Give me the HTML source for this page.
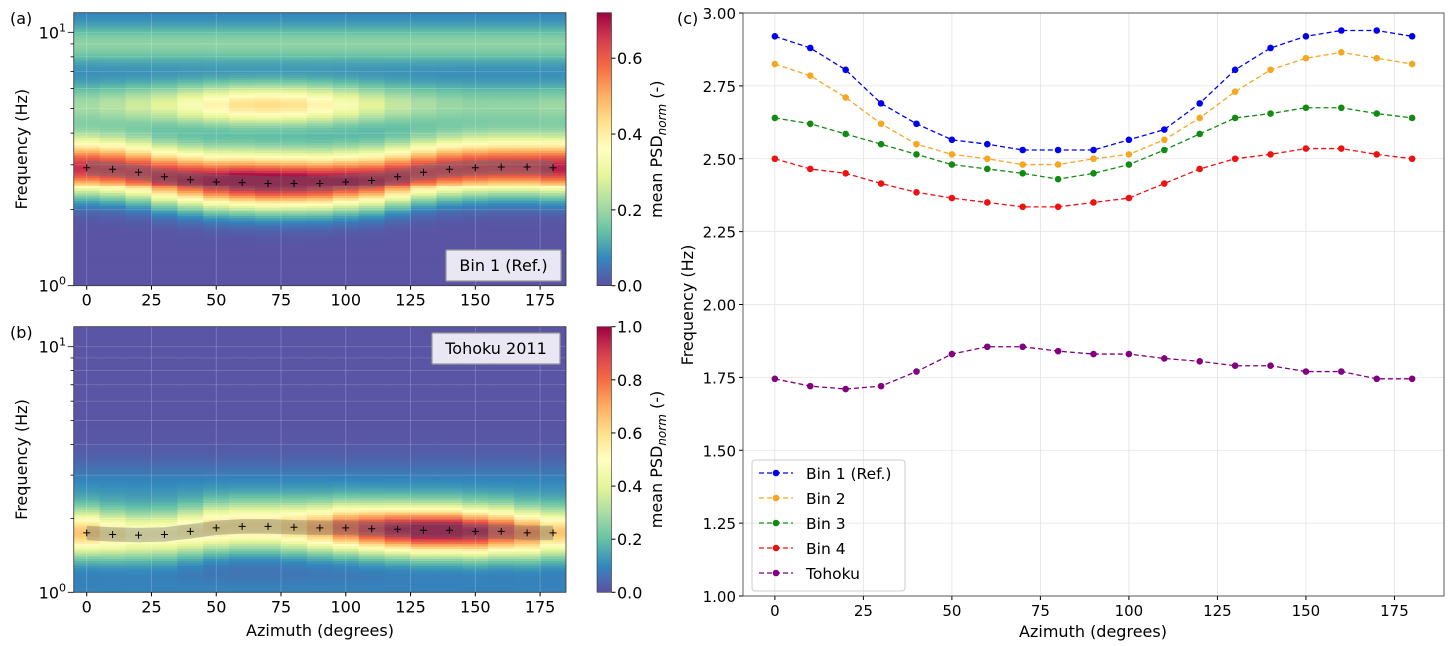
<!DOCTYPE html>
<html><head><meta charset="utf-8"><style>
body{margin:0;background:#fff;}
svg{display:block;font-family:"DejaVu Sans","Liberation Sans",sans-serif;}
</style></head><body>
<svg id="fig" width="1454" height="646" viewBox="0 0 1454 646" xmlns="http://www.w3.org/2000/svg">
<defs>
<clipPath id="clipA"><rect x="73.75" y="12.7" width="492.25" height="273"/></clipPath>
<clipPath id="clipB"><rect x="73.75" y="326.7" width="492.25" height="265.6"/></clipPath>
</defs>
<g id="heatA" clip-path="url(#clipA)"></g>
<g id="heatB" clip-path="url(#clipB)"></g>
<g id="over"></g>
</svg>
<script>
const azimuths=[0,10,20,30,40,50,60,70,80,90,100,110,120,130,140,150,160,170,180];
const bin1=[2.92,2.88,2.805,2.69,2.62,2.565,2.55,2.53,2.53,2.53,2.565,2.60,2.69,2.805,2.88,2.92,2.94,2.94,2.92];
const bin2=[2.825,2.785,2.71,2.62,2.55,2.515,2.50,2.48,2.48,2.50,2.515,2.565,2.64,2.73,2.805,2.845,2.865,2.845,2.825];
const bin3=[2.64,2.62,2.585,2.55,2.515,2.48,2.465,2.45,2.43,2.45,2.48,2.53,2.585,2.64,2.655,2.675,2.675,2.655,2.64];
const bin4=[2.50,2.465,2.45,2.415,2.385,2.365,2.35,2.335,2.335,2.35,2.365,2.415,2.465,2.50,2.515,2.535,2.535,2.515,2.50];
const tohoku=[1.745,1.72,1.71,1.72,1.77,1.83,1.855,1.855,1.84,1.83,1.83,1.815,1.805,1.79,1.79,1.77,1.77,1.745,1.745];
// heatmap (a) per-azimuth amplitudes
const mainAmpA=[0.6,0.6,0.6,0.62,0.64,0.67,0.7,0.71,0.7,0.68,0.66,0.64,0.62,0.6,0.6,0.6,0.6,0.6,0.62];
const secAmpA=[0.14,0.16,0.19,0.22,0.27,0.32,0.36,0.37,0.36,0.32,0.27,0.22,0.18,0.15,0.13,0.12,0.12,0.12,0.13];
const thirdAmpA=[0.12,0.12,0.12,0.12,0.12,0.12,0.12,0.12,0.12,0.12,0.12,0.12,0.12,0.12,0.12,0.12,0.12,0.12,0.12];
// heatmap (b)
const mainAmpB=[0.62,0.55,0.5,0.5,0.52,0.55,0.55,0.55,0.6,0.68,0.8,0.88,0.95,1.0,1.0,0.95,0.85,0.75,0.62];
const xTicks=[0,25,50,75,100,125,150,175];
const yTicksC=[1.00,1.25,1.50,1.75,2.00,2.25,2.50,2.75,3.00];
const cbTicksA=[0.0,0.2,0.4,0.6];
const cbTicksB=[0.0,0.2,0.4,0.6,0.8,1.0];

const NS="http://www.w3.org/2000/svg";
const svg=document.getElementById('fig');
const over=document.getElementById('over');
function mk(tag,attrs,parent,text){const e=document.createElementNS(NS,tag);for(const k in attrs)e.setAttribute(k,attrs[k]);if(text!==undefined)e.textContent=text;(parent||over).appendChild(e);return e;}
const xA=az=>73.75+(az+5)*(566-73.75)/190;
const yA=f=>285.7-Math.log10(f)*253.4;
const yB=f=>592.3-Math.log10(f)*245.6;
const xC=az=>743+(az+9)*701/198;
const yC=v=>596-(v-1)*291.5;

const stops=['#5e4fa2','#3288bd','#66c2a5','#abdda4','#e6f598','#ffffbf','#fee08b','#fdae61','#f46d43','#d53e4f','#9e0142'];
function hex(h){return [parseInt(h.slice(1,3),16),parseInt(h.slice(3,5),16),parseInt(h.slice(5,7),16)];}
function cmap(t){t=Math.max(0,Math.min(1,t));const p=t*10,i=Math.min(9,Math.floor(p)),f=p-i;const a=hex(stops[i]),b=hex(stops[i+1]);return 'rgb('+a.map((v,k)=>Math.round(v+(b[k]-v)*f)).join(',')+')';}
const g=(x,m,s)=>Math.exp(-0.5*((x-m)/s)*((x-m)/s));

const NR=110;
const hA=document.getElementById('heatA'),hB=document.getElementById('heatB');
azimuths.forEach((az,i)=>{
  for(let r=0;r<NR;r++){
    const l0=r*1.09/NR,l1=(r+1)*1.09/NR,l=(l0+l1)/2;
    const mA=Math.log10(bin1[i]);
    const sA=l>mA?0.08:0.07;
    let vA=mainAmpA[i]*g(l,mA,sA)+secAmpA[i]*g(l,0.715,0.055)+thirdAmpA[i]*g(l,0.955,0.05)+(l>0.4?0.06:0.0)+0.005;
    let e=mk('rect',{x:xA(az-5),y:yA(Math.pow(10,l1)),width:xA(az+5)-xA(az-5)+0.5,height:yA(Math.pow(10,l0))-yA(Math.pow(10,l1))+0.5,fill:cmap(vA/0.72)},hA);
    
    
    const mB=Math.log10(tohoku[i]);
    const sB=l>mB?0.065:0.07;
    let vB=mainAmpB[i]*g(l,mB,sB)+0.1*g(l,0.4,0.09)+0.08*g(l,0.0,0.07)+0.01;
    e=mk('rect',{x:xA(az-5),y:yB(Math.pow(10,l1)),width:xA(az+5)-xA(az-5)+0.5,height:yB(Math.pow(10,l0))-yB(Math.pow(10,l1))+0.5,fill:cmap(vB)},hB);
    
    
  }
});

function heatAxes(yf,top,bot,series,clip,tag,boxText,boxX,boxY,boxW,cbMax,cbTicks,gradId){
  const G=mk('g',{'clip-path':'url(#'+clip+')'});
  xTicks.forEach(t=>{mk('line',{x1:xA(t),x2:xA(t),y1:top,y2:bot,stroke:'rgba(255,255,255,0.25)','stroke-width':0.8},G);});
  for(let d=0;d<=1;d++)for(let m=1;m<=9;m++){const f=m*Math.pow(10,d);if(f>12)continue;mk('line',{x1:73.75,x2:566,y1:yf(f),y2:yf(f),stroke:'rgba(255,255,255,0.22)','stroke-width':0.7},G);}
  let up=series.map((v,i)=>xA(azimuths[i])+','+yf(v*1.07));
  let dn=series.map((v,i)=>xA(azimuths[i])+','+yf(v/1.07)).reverse();
  const band=mk('polygon',{points:up.concat(dn).join(' '),fill:'rgba(110,120,110,0.4)'},G);
  
  
  series.forEach((v,i)=>{const x=xA(azimuths[i]),y=yf(v);
    const p=mk('path',{d:`M${x-3.5} ${y}H${x+3.5}M${x} ${y-3.5}V${y+3.5}`,stroke:'#000','stroke-width':1},G);
    
    });
  mk('rect',{x:73.75,y:top,width:492.25,height:bot-top,fill:'none',stroke:'#333','stroke-width':0.8});
  xTicks.forEach(t=>{mk('line',{x1:xA(t),x2:xA(t),y1:bot,y2:bot+4,stroke:'#000'});
    const tx=mk('text',{x:xA(t),y:bot+20,'font-size':16,'text-anchor':'middle'},over,String(t));
    });
  for(let d=0;d<=1;d++)for(let m=1;m<=9;m++){const f=m*Math.pow(10,d);if(f>12)continue;mk('line',{x1:m==1?67.75:70.5,x2:73.75,y1:yf(f),y2:yf(f),stroke:'#000','stroke-width':0.8});}
  [0,1].forEach(d=>{const t=mk('text',{x:66,y:yf(Math.pow(10,d))+6,'font-size':16,'text-anchor':'end'});
    
    t.appendChild(document.createTextNode('10'));mk('tspan',{dy:-7,'font-size':11},t,String(d));});
  const yl=mk('text',{x:0,y:0,'font-size':16,'text-anchor':'middle',transform:`translate(27,${(top+bot)/2}) rotate(-90)`},over,'Frequency (Hz)');
  
  const bx=mk('rect',{x:boxX,y:boxY,width:boxW,height:31,fill:'#e9e7f3',stroke:'#999','stroke-width':1.2,rx:1});
  
  mk('text',{x:boxX+boxW/2,y:boxY+21,'font-size':16,'text-anchor':'middle'},over,boxText);
  const defs=svg.querySelector('defs');
  const lg=mk('linearGradient',{id:gradId,x1:0,y1:1,x2:0,y2:0},defs);
  for(let k=0;k<=20;k++)mk('stop',{offset:k/20,'stop-color':cmap(k/20)},lg);
  const cb=mk('rect',{x:597,y:top,width:14.5,height:bot-top,fill:`url(#${gradId})`,stroke:'#333','stroke-width':0.6});
  
  cbTicks.forEach(v=>{const y=bot-(v/cbMax)*(bot-top);mk('line',{x1:611.5,x2:615.5,y1:y,y2:y,stroke:'#000'});
    const t=mk('text',{x:617,y:y+6,'font-size':16},over,v.toFixed(1));
    });
  const cl=mk('text',{x:0,y:0,'font-size':16,'text-anchor':'middle',transform:`translate(662,${(top+bot)/2}) rotate(-90)`});
  
  cl.appendChild(document.createTextNode('mean PSD'));mk('tspan',{dy:4,'font-size':12,'font-style':'italic'},cl,'norm');mk('tspan',{dy:-4},cl,' (-)');
}
heatAxes(yA,12.7,285.7,bin1,'clipA','a','Bin 1 (Ref.)',446,250,115,0.72,cbTicksA,'gA');
heatAxes(yB,326.7,592.3,tohoku,'clipB','b','Tohoku 2011',432,333,128,1.0,cbTicksB,'gB');
mk('text',{x:320,y:636,'font-size':16,'text-anchor':'middle',},over,'Azimuth (degrees)');
mk('text',{x:10,y:24,'font-size':16,},over,'(a)');
mk('text',{x:10,y:338,'font-size':16,},over,'(b)');
mk('text',{x:677,y:24,'font-size':16,},over,'(c)');

yTicksC.forEach(v=>{mk('line',{x1:743,x2:1444,y1:yC(v),y2:yC(v),stroke:'#e3e3e3','stroke-width':0.8});
  mk('line',{x1:739,x2:743,y1:yC(v),y2:yC(v),stroke:'#000'});
  const t=mk('text',{x:736,y:yC(v)+6,'font-size':15,'text-anchor':'end'},over,v.toFixed(2));
  });
xTicks.forEach(v=>{mk('line',{x1:xC(v),x2:xC(v),y1:13,y2:596,stroke:'#e3e3e3','stroke-width':0.8});
  mk('line',{x1:xC(v),x2:xC(v),y1:596,y2:600,stroke:'#000'});
  const t=mk('text',{x:xC(v),y:616,'font-size':15,'text-anchor':'middle'},over,String(v));
  });
mk('rect',{x:743,y:13,width:701,height:583,fill:'none',stroke:'#333','stroke-width':0.8,});
const seriesC=[['Bin 1 (Ref.)',bin1,'#0000ee'],['Bin 2',bin2,'#f5a623'],['Bin 3',bin3,'#138a13'],['Bin 4',bin4,'#ee1111'],['Tohoku',tohoku,'#800080']];
seriesC.forEach(([name,vals,col],si)=>{
  const line=mk('polyline',{points:vals.map((v,i)=>xC(azimuths[i])+','+yC(v)).join(' '),fill:'none',stroke:col,'stroke-width':1.3,'stroke-dasharray':'5,3'});
  
  vals.forEach((v,i)=>{const c=mk('circle',{cx:xC(azimuths[i]),cy:yC(v),r:3.3,fill:col});
    });
  const ly=473+si*25;
  mk('line',{x1:759,x2:793,y1:ly,y2:ly,stroke:col,'stroke-width':1.3,'stroke-dasharray':'5,3'});
  mk('circle',{cx:776,cy:ly,r:3.3,fill:col});
  const lt=mk('text',{x:806,y:ly+6,'font-size':15.5},over,name);
  
});
const lb=mk('rect',{x:752,y:460,width:153,height:131,fill:'none',stroke:'#ccc',rx:3});

mk('text',{x:1093,y:637,'font-size':16,'text-anchor':'middle',},over,'Azimuth (degrees)');
mk('text',{x:0,y:0,'font-size':16,'text-anchor':'middle',transform:'translate(693,305) rotate(-90)',},over,'Frequency (Hz)');
</script>
</body></html>
